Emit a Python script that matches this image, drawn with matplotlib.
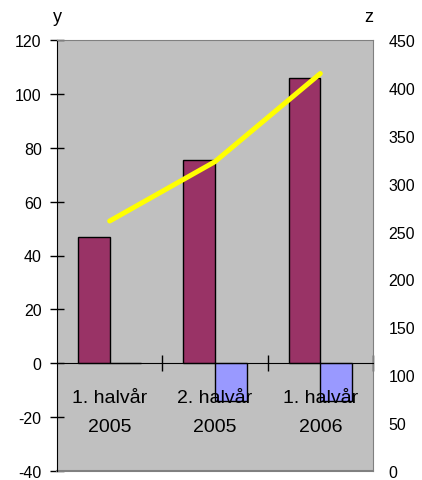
import numpy as np
import matplotlib
matplotlib.use("Agg")
import matplotlib.pyplot as plt

plt.rcParams["font.family"] = ["Liberation Sans", "DejaVu Sans"]
plt.rcParams["axes.unicode_minus"] = False

# ---- data -----------------------------------------------------------------
categories = ["1. halvår\n2005", "2. halvår\n2005", "1. halvår\n2006"]
y_maroon = [47, 75.5, 106]
y_blue = [0, -14, -14]
z_line = [261, 323, 415]

W, H = 422, 481
fig = plt.figure(figsize=(W / 100, H / 100), dpi=100)
ax = fig.add_axes([57 / W, 9 / H, (373 - 57) / W, (472 - 41) / H])
ax.set_facecolor("#C0C0C0")

x = np.arange(len(categories))
bw = 0.3
ax.bar(x - bw / 2, y_maroon, bw, color="#993366", edgecolor="black", lw=1, zorder=2)
ax.bar(x + bw / 2, y_blue, bw, color="#9999FF", edgecolor="black", lw=1, zorder=2)

ax.set_xlim(-0.5, len(categories) - 0.5)
ax.set_ylim(-40, 120)
ax.set_yticks(np.arange(-40, 121, 20))
ax.tick_params(axis="y", direction="inout", length=10, width=1, labelsize=11.5, pad=6)

# category axis crosses at y=0
ax.spines["bottom"].set_position(("data", 0))
ax.spines["bottom"].set_zorder(3)
ax.set_xticks(x + 0.5)
ax.set_xticklabels([])
ax.tick_params(axis="x", direction="inout", length=12, width=1)
for xi, lab in zip(x, categories):
    ax.text(xi, -9.5, lab, ha="center", va="top", fontsize=14,
            linespacing=1.95, zorder=4)

for s in ("top", "right"):
    ax.spines[s].set_color("#808080")
ax.axhline(-40, color="#808080", lw=1.5, clip_on=False)

ax2 = ax.twinx()
ax2.set_ylim(0, 450)
ax2.set_yticks(np.arange(0, 451, 50))
ax2.tick_params(axis="y", length=0, labelsize=11.5, pad=11)
for s in ax2.spines.values():
    s.set_visible(False)
ax2.plot(x, z_line, color="#FFFF00", lw=3.6, solid_capstyle="round", zorder=5)

fig.text(57 / W, 1 - 18 / H, "y", ha="center", va="center", fontsize=13)
fig.text(369 / W, 1 - 18 / H, "z", ha="center", va="center", fontsize=13)

fig.savefig("out.png", dpi=100)
